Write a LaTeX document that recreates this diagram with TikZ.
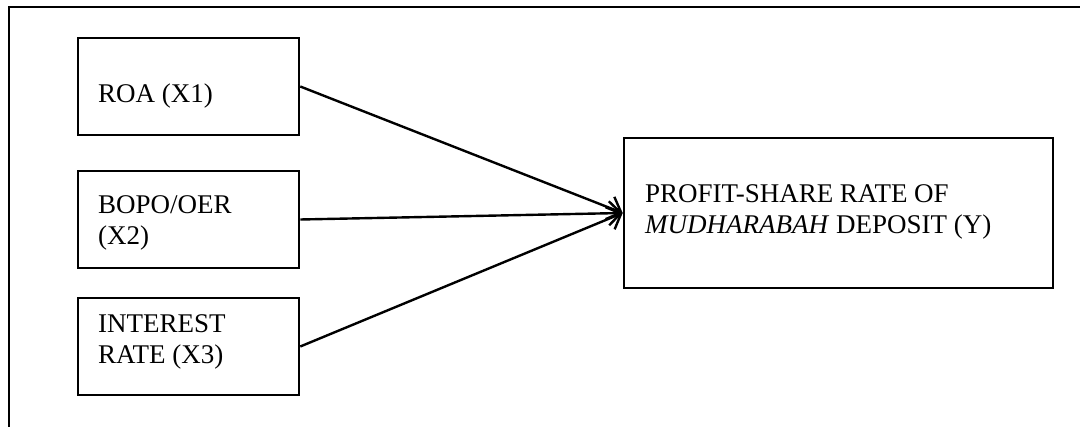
\documentclass[tikz,border=0pt]{standalone}
\usepackage{fontspec}
\setmainfont{Liberation Serif}
\usetikzlibrary{arrows.meta}
\tikzset{
  box/.style={draw, line width=2.6pt, rectangle, inner sep=0pt, minimum width=221pt, minimum height=97pt},
  bigbox/.style={draw, line width=2.6pt, rectangle, inner sep=0pt, minimum width=429pt, minimum height=150pt},
  lbl/.style={anchor=base west, inner sep=0pt, align=left, font=\fontsize{27}{31.5}\selectfont},
  conn/.style={line width=2.4pt, -{Straight Barb[length=12pt, width=24pt, line width=2.4pt]}},
  frame/.style={line width=2.6pt}
}
\begin{document}
\begin{tikzpicture}[x=1pt, y=-1pt]
\useasboundingbox (0,0) rectangle (1080,427);
\coordinate (fr) at (1081,7);
\coordinate (fc) at (9,7);
\coordinate (fb) at (9,428);
\draw[frame] (fr) -- (fc) -- (fb);
\node[box] (x1) at (188.5,86.5) {};
\node[box] (x2) at (188.5,219.5) {};
\node[box] (x3) at (188.5,346.5) {};
\node[bigbox] (y) at (838.5,213) {};
\node[lbl] (t1) at (98,103) {ROA (X1)};
\node[lbl] (t2) at (98,245) {BOPO/OER\\(X2)};
\node[lbl] (t3) at (98,364) {INTEREST\\RATE (X3)};
\node[lbl] (ty) at (645,234) {PROFIT-SHARE RATE OF\\\textit{MUDHARABAH} DEPOSIT (Y)};
\draw[conn] (x1.east) -- (y.west);
\draw[conn] (x2.east) -- (y.west);
\draw[conn] (x3.east) -- (y.west);
\end{tikzpicture}
\end{document}
